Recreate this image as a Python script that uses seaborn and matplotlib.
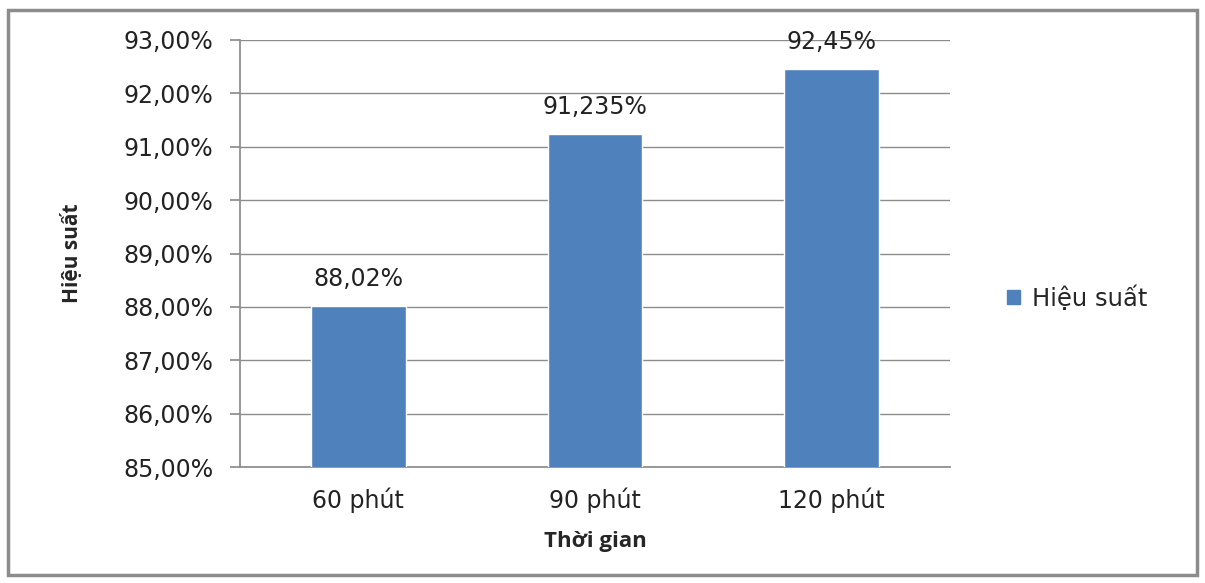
import matplotlib
matplotlib.use("Agg")
import matplotlib.pyplot as plt
import matplotlib.patches as mpatches
import seaborn as sns
import pandas as pd
from matplotlib.ticker import FuncFormatter

categories = ["60 phút", "90 phút", "120 phút"]
values = [88.02, 91.235, 92.45]
value_labels = ["88,02%", "91,235%", "92,45%"]
series_name = "Hiệu suất"
yticks = [85, 86, 87, 88, 89, 90, 91, 92, 93]

sns.set_theme(style="white")
plt.rcParams['font.family'] = ['DejaVu Sans']

df = pd.DataFrame({"cat": categories, "val": values})

fig = plt.figure(figsize=(12.05, 5.83), dpi=100)
ax = fig.add_axes([240/1205, 1-467/583, 710/1205, 427/583])

color = "#4F81BD"
sns.barplot(data=df, x="cat", y="val", color=color, width=0.4, ax=ax,
            saturation=1, zorder=3)

ax.set_ylim(85, 93)
ax.set_yticks(yticks)
ax.yaxis.set_major_formatter(FuncFormatter(lambda v, p: f"{v:.2f}%".replace(".", ",")))
ax.grid(axis="y", color="#8c8c8c", linewidth=1, zorder=0)
ax.set_axisbelow(True)
for s in ["top", "right"]:
    ax.spines[s].set_visible(False)
ax.spines["left"].set_color("#8c8c8c")
ax.spines["bottom"].set_color("#8c8c8c")
ax.tick_params(axis="y", which="major", length=7, color="#8c8c8c", labelsize=17,
               labelcolor="#222222", left=True, pad=12)
ax.tick_params(axis="x", length=0, labelsize=17, labelcolor="#222222", pad=15)

for i, (v, lab) in enumerate(zip(values, value_labels)):
    ax.annotate(lab, (i, v), xytext=(0, 11), textcoords="offset points",
                ha="center", va="bottom", fontsize=17, color="#222222")

ax.set_xlabel("Thời gian", fontsize=16, fontweight="bold", family="Open Sans", labelpad=13)
ax.set_ylabel("Hiệu suất", fontsize=15, fontweight="bold", family="Open Sans", labelpad=29)

handle = mpatches.Patch(color=color, label=series_name)
fig.legend(handles=[handle], loc="center left", bbox_to_anchor=(985/1205, 1-298/583),
           frameon=False, fontsize=17.5, handlelength=0.55, handleheight=0.55,
           handletextpad=0.5)

border = mpatches.Rectangle((8/1205, 8/583), 1189/1205, 565/583, transform=fig.transFigure,
                            fill=False, edgecolor="#8c8c8c", linewidth=2.5)
fig.patches.append(border)

fig.savefig("out.png", dpi=100)
